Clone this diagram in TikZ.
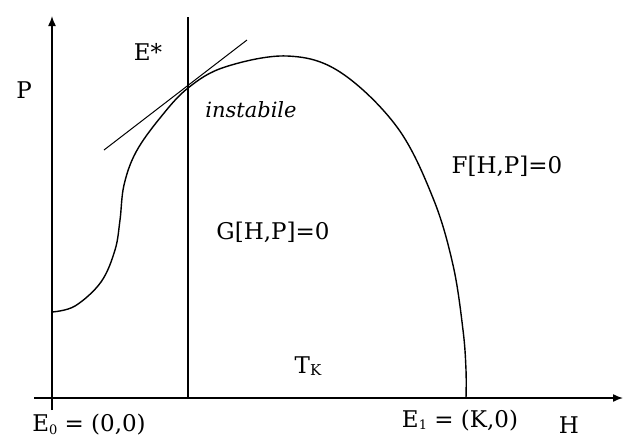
\documentclass[tikz,border=0pt]{standalone}
\usepackage{fontspec}
\setmainfont{DejaVu Serif}
\usetikzlibrary{arrows.meta}
\begin{document}
\begin{tikzpicture}[x=1pt,y=-1pt,
  axis/.style={line width=1.5pt,-{Latex[length=10pt,width=8pt]}},
  lin/.style={line width=1.4pt},
  thin/.style={line width=1pt},
  lbl/.style={inner sep=0pt,font=\fontsize{23}{27}\selectfont}]
\useasboundingbox (0,0) rectangle (624,440);
\fill[white] (0,0) rectangle (624,440);
\coordinate (ybot) at (52,410);
\coordinate (ytop) at (52,16);
\coordinate (xl) at (34,398);
\coordinate (xr) at (623,398);
\coordinate (vtop) at (188,17);
\coordinate (vbot) at (188,398);
\coordinate (tA) at (104,150);
\coordinate (tB) at (247,40);
\coordinate (e1tick) at (466,398);
\draw[axis] (ybot) -- (ytop);
\draw[axis] (xl) -- (xr);
\draw[lin] (vtop) -- (vbot);
\draw[thin] (tA) -- (tB);
\draw[lin] plot[smooth,tension=0.6] coordinates {(52,312) (75,306) (101,282) (115,250) (120,220) (124,185) (136,152) (160,118) (188,88) (225,67) (287,56) (340,72) (397,127) (433,198) (453,265) (463,330) (466,370) (e1tick)};
\node[lbl] (P) at (24,90) {P};
\node[lbl] (Estar) at (148,52) {E*};
\node[lbl,font=\fontsize{21}{25}\selectfont\itshape] (inst) at (251,110) {instabile};
\node[lbl] (F) at (507,166) {F[H,P]=0};
\node[lbl] (G) at (273,232) {G[H,P]=0};
\node[lbl] (Tk) at (308,366) {T\raisebox{-2pt}{\fontsize{15}{15}\selectfont K}};
\node[lbl] (E0) at (89,425) {E\raisebox{-3pt}{\fontsize{13}{13}\selectfont 0} = (0,0)};
\node[lbl] (E1) at (460,421) {E\raisebox{-2pt}{\fontsize{13}{13}\selectfont 1} = (K,0)};
\node[lbl] (H) at (569,425) {H};
\end{tikzpicture}
\end{document}
